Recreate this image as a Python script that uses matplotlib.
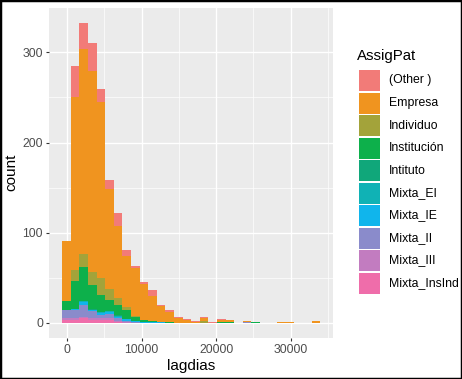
from matplotlib import pyplot as plt
from matplotlib.patches import Rectangle
import numpy as np

plt.rcParams["font.family"] = ["Liberation Sans", "DejaVu Sans"]

# histogram bins (lagdias): 30 bins
first_center = -100
bin_width = 1155
n_bins = 30

categories = ["(Other )", "Empresa", "Individuo", "Institución", "Intituto",
              "Mixta_EI", "Mixta_IE", "Mixta_II", "Mixta_III", "Mixta_InsInd"]
colors = ["#F27B78", "#F0941F", "#A3A33A", "#0DB04B", "#10A77A",
          "#10B2B5", "#10B5EC", "#8A8BCB", "#C27CC0", "#EF6DAA"]

# counts per bin
other       = [0, 34, 29, 31, 14, 10, 15, 7, 2, 2, 6, 1, 2, 1, 1, 1, 1, 1, 1, 0, 0, 0, 0, 0, 0, 0, 0, 0, 0, 0]
empresa     = [67, 192, 228, 222, 195, 110, 79, 56, 53, 40, 28, 18, 11, 6, 3, 1, 4, 0, 2, 2, 0, 1, 0, 0, 0, 1, 1, 0, 0, 2]
individuo   = [0, 13, 14, 15, 19, 12, 8, 4, 1, 0, 0, 0, 0, 0, 0, 0, 2, 0, 0, 0, 0, 0, 0, 0, 0, 0, 0, 0, 0, 0]
institucion = [10, 31, 38, 27, 19, 13, 11, 10, 5, 2, 1, 0, 1, 0, 0, 0, 0, 0, 1, 1, 0, 0, 1, 0, 0, 0, 0, 0, 0, 0]
intituto    = [0, 0, 0, 1, 0, 0, 1, 0, 0, 0, 0, 0, 0, 0, 0, 0, 0, 0, 0, 0, 0, 0, 0, 0, 0, 0, 0, 0, 0, 0]
mixta_ei    = [0, 0, 1, 0, 1, 1, 1, 0, 0, 0, 0, 0, 0, 0, 0, 0, 0, 0, 0, 0, 0, 0, 0, 0, 0, 0, 0, 0, 0, 0]
mixta_ie    = [0, 1, 3, 1, 2, 2, 2, 2, 1, 1, 1, 1, 0, 0, 0, 0, 0, 0, 0, 0, 0, 0, 0, 0, 0, 0, 0, 0, 0, 0]
mixta_ii    = [9, 9, 13, 8, 4, 5, 3, 1, 1, 0, 0, 0, 0, 0, 0, 0, 0, 0, 0, 0, 0, 1, 0, 0, 0, 0, 0, 0, 0, 0]
mixta_iii   = [2, 2, 2, 2, 2, 2, 1, 1, 0, 0, 0, 0, 0, 0, 0, 0, 0, 0, 0, 0, 0, 0, 0, 0, 0, 0, 0, 0, 0, 0]
mixta_insind = [3, 3, 5, 3, 3, 3, 1, 0, 0, 0, 0, 0, 0, 0, 0, 0, 0, 0, 0, 0, 0, 0, 0, 0, 0, 0, 0, 0, 0, 0]

series = [other, empresa, individuo, institucion, intituto,
          mixta_ei, mixta_ie, mixta_ii, mixta_iii, mixta_insind]

centers = first_center + bin_width * np.arange(n_bins)

W, H = 462, 379
fig = plt.figure(figsize=(W / 100, H / 100), dpi=100)
ax = fig.add_axes([49.3 / W, 1 - 338 / H, (333 - 49.3) / W, (338 - 7.5) / H])
ax.set_facecolor("#EBEBEB")

# stack from the last level (bottom) to the first (top), like ggplot
bottom = np.zeros(n_bins)
for name, vals, col in reversed(list(zip(categories, series, colors))):
    vals = np.array(vals, dtype=float)
    ax.bar(centers, vals, width=bin_width, bottom=bottom, color=col,
           linewidth=0, zorder=2, label=name)
    bottom += vals

ax.set_xticks([0, 10000, 20000, 30000])
ax.set_xticks([5000, 15000, 25000, 35000], minor=True)
ax.set_yticks([0, 100, 200, 300])
ax.set_yticks([50, 150, 250], minor=True)

# ggplot style expansion (after ticks, so the ticks don't widen the view)
lo, hi = centers[0] - bin_width / 2, centers[-1] + bin_width / 2
pad = 0.05 * (hi - lo)
ax.set_xlim(lo - pad, hi + pad)
ymax = bottom.max()
ax.set_ylim(-0.05 * ymax, 1.05 * ymax)

ax.grid(which="major", color="white", linewidth=1.0, zorder=0)
ax.grid(which="minor", color="white", linewidth=0.5, zorder=0)
ax.set_axisbelow(True)
for s in ax.spines.values():
    s.set_visible(False)
ax.tick_params(which="major", length=2.5, width=0.8, color="#333333",
               labelcolor="#4D4D4D", labelsize=8.8, pad=2)
ax.tick_params(which="minor", length=0)

ax.set_xlabel("lagdias", fontsize=11, labelpad=2)
ax.set_ylabel("count", fontsize=11, labelpad=3)

# legend drawn by hand (ggplot layout: tall square keys)
def fx(px):
    return px / W

def fy(py):
    return 1 - py / H

fig.text(fx(357), fy(56), "AssigPat", fontsize=10.8, va="center", ha="left")
key_top, key_step, key_size = 70, 22.5, 21
for i, (name, col) in enumerate(zip(categories, colors)):
    top = key_top + i * key_step
    fig.add_artist(Rectangle((fx(359.3), fy(top + key_size)), fx(key_size),
                             key_size / H, transform=fig.transFigure,
                             facecolor=col, edgecolor="none"))
    fig.text(fx(389), fy(top + key_size / 2), name, fontsize=8.8,
             va="center", ha="left")

# outer black frame
fig.add_artist(Rectangle((0, 0), 1, 1, transform=fig.transFigure,
                         fill=False, edgecolor="black", linewidth=2.5))

plt.savefig("out.png", dpi=100)
